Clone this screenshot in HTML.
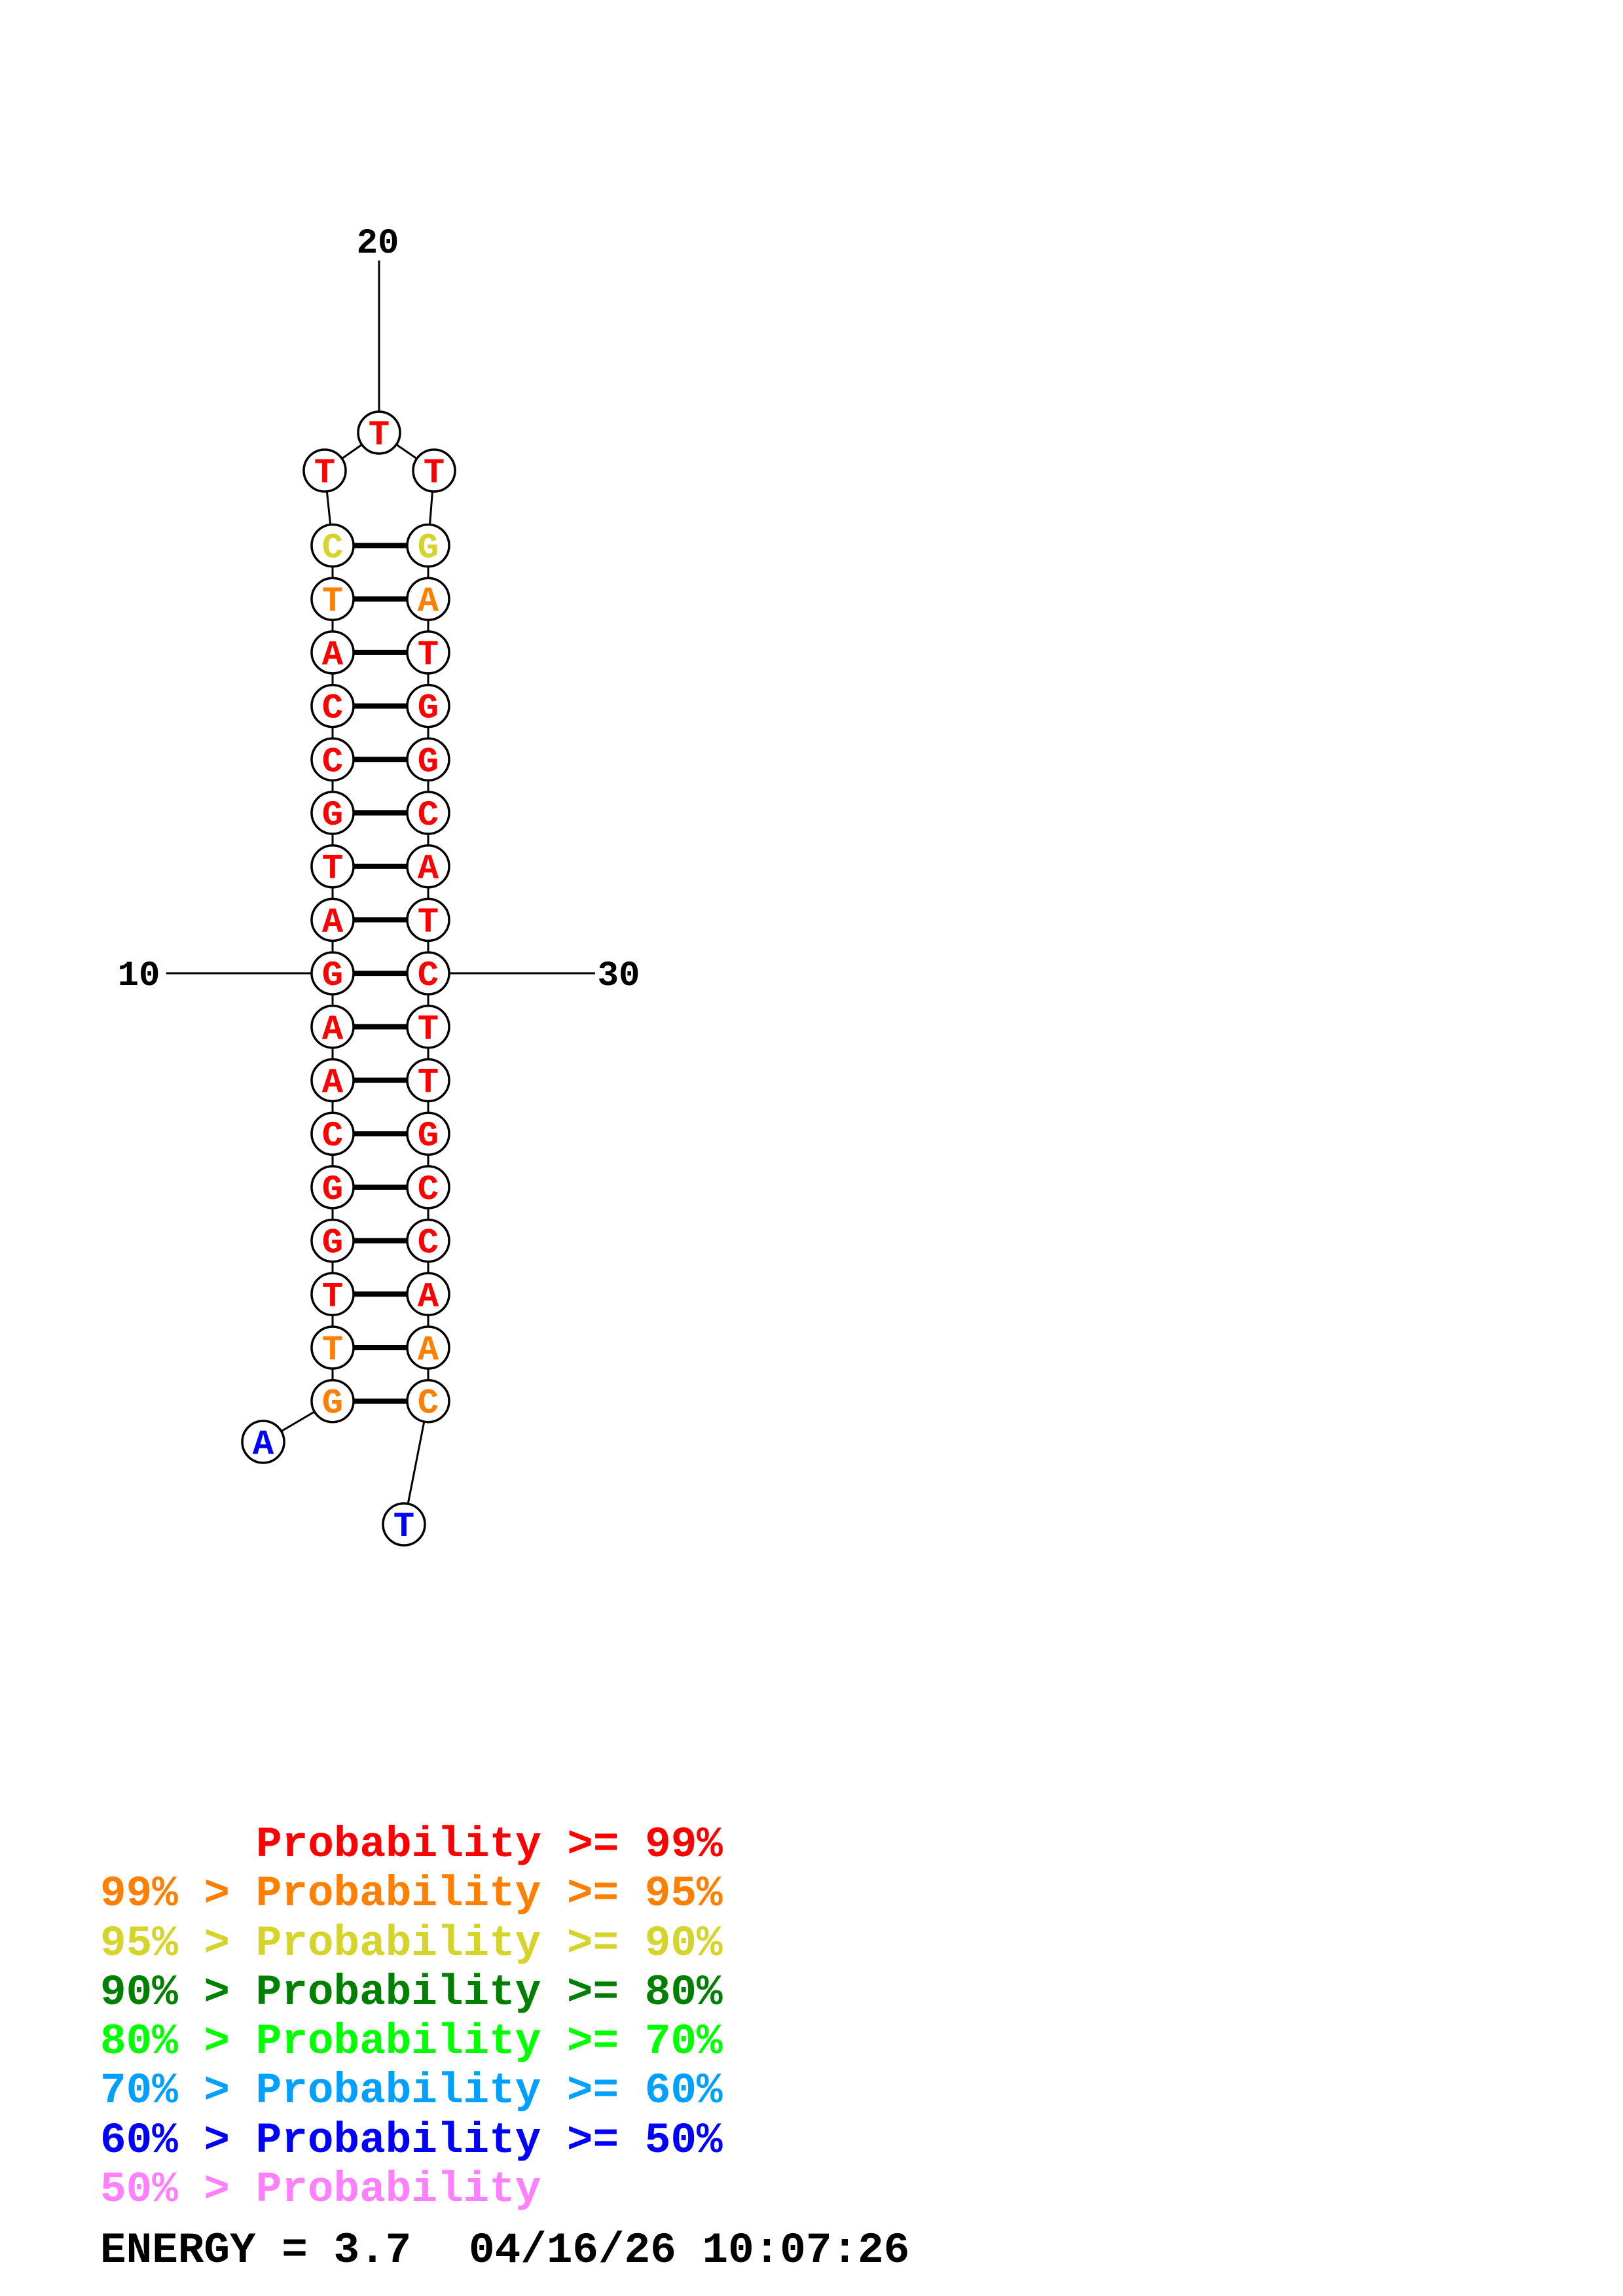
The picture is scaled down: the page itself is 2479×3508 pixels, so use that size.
<!DOCTYPE html>
<html><head><meta charset="utf-8"><style>
html,body{margin:0;padding:0;background:#fff}
svg{display:block}
.n{font-family:"Liberation Mono",monospace;font-weight:bold;font-size:54px;text-anchor:middle}
.l{font-family:"Liberation Mono",monospace;font-weight:bold;font-size:54px;text-anchor:middle;fill:#000}
.g{font-family:"Liberation Mono",monospace;font-weight:bold;font-size:66px}
.r{fill:#ff0000}.o{fill:#ff8000}.y{fill:#d4d42a}.b{fill:#0000ff}
</style></head><body>
<svg width="2479" height="3508" viewBox="0 0 2479 3508" xmlns="http://www.w3.org/2000/svg">
<g stroke="#000" stroke-width="3" fill="none">
<line x1="579" y1="398" x2="579" y2="630"/>
<line x1="254" y1="1487" x2="508" y2="1487"/>
<line x1="654" y1="1487" x2="909" y2="1487"/>
<line x1="579" y1="661" x2="496" y2="719"/>
<line x1="579" y1="661" x2="663" y2="719"/>
<line x1="496" y1="719" x2="508" y2="833.5"/>
<line x1="663" y1="719" x2="654" y2="833.5"/>
<line x1="508" y1="833.5" x2="508" y2="2140.7"/>
<line x1="654" y1="833.5" x2="654" y2="2140.7"/>
<line x1="508" y1="2140.7" x2="402" y2="2203"/>
<line x1="654" y1="2140.7" x2="617" y2="2329"/>
</g>
<g stroke="#000" stroke-width="8">
<line x1="508" y1="833.5" x2="654" y2="833.5"/>
<line x1="508" y1="915.2" x2="654" y2="915.2"/>
<line x1="508" y1="996.9" x2="654" y2="996.9"/>
<line x1="508" y1="1078.6" x2="654" y2="1078.6"/>
<line x1="508" y1="1160.3" x2="654" y2="1160.3"/>
<line x1="508" y1="1242" x2="654" y2="1242"/>
<line x1="508" y1="1323.7" x2="654" y2="1323.7"/>
<line x1="508" y1="1405.4" x2="654" y2="1405.4"/>
<line x1="508" y1="1487.1" x2="654" y2="1487.1"/>
<line x1="508" y1="1568.8" x2="654" y2="1568.8"/>
<line x1="508" y1="1650.5" x2="654" y2="1650.5"/>
<line x1="508" y1="1732.2" x2="654" y2="1732.2"/>
<line x1="508" y1="1813.9" x2="654" y2="1813.9"/>
<line x1="508" y1="1895.6" x2="654" y2="1895.6"/>
<line x1="508" y1="1977.3" x2="654" y2="1977.3"/>
<line x1="508" y1="2059" x2="654" y2="2059"/>
<line x1="508" y1="2140.7" x2="654" y2="2140.7"/>
</g>
<g stroke="#000" stroke-width="3.5" fill="#fff">
<circle cx="579" cy="661" r="32"/><circle cx="496" cy="719" r="32"/><circle cx="663" cy="719" r="32"/>
<circle cx="402" cy="2203" r="32"/><circle cx="617" cy="2329" r="32"/>
<circle cx="508" cy="833.5" r="32"/><circle cx="654" cy="833.5" r="32"/>
<circle cx="508" cy="915.2" r="32"/><circle cx="654" cy="915.2" r="32"/>
<circle cx="508" cy="996.9" r="32"/><circle cx="654" cy="996.9" r="32"/>
<circle cx="508" cy="1078.6" r="32"/><circle cx="654" cy="1078.6" r="32"/>
<circle cx="508" cy="1160.3" r="32"/><circle cx="654" cy="1160.3" r="32"/>
<circle cx="508" cy="1242" r="32"/><circle cx="654" cy="1242" r="32"/>
<circle cx="508" cy="1323.7" r="32"/><circle cx="654" cy="1323.7" r="32"/>
<circle cx="508" cy="1405.4" r="32"/><circle cx="654" cy="1405.4" r="32"/>
<circle cx="508" cy="1487.1" r="32"/><circle cx="654" cy="1487.1" r="32"/>
<circle cx="508" cy="1568.8" r="32"/><circle cx="654" cy="1568.8" r="32"/>
<circle cx="508" cy="1650.5" r="32"/><circle cx="654" cy="1650.5" r="32"/>
<circle cx="508" cy="1732.2" r="32"/><circle cx="654" cy="1732.2" r="32"/>
<circle cx="508" cy="1813.9" r="32"/><circle cx="654" cy="1813.9" r="32"/>
<circle cx="508" cy="1895.6" r="32"/><circle cx="654" cy="1895.6" r="32"/>
<circle cx="508" cy="1977.3" r="32"/><circle cx="654" cy="1977.3" r="32"/>
<circle cx="508" cy="2059" r="32"/><circle cx="654" cy="2059" r="32"/>
<circle cx="508" cy="2140.7" r="32"/><circle cx="654" cy="2140.7" r="32"/>
</g>
<g class="n">
<text x="579" y="679" class="r">T</text><text x="496" y="737" class="r">T</text><text x="663" y="737" class="r">T</text>
<text x="402" y="2221" class="b">A</text><text x="617" y="2347" class="b">T</text>
<text x="508" y="851.5" class="y">C</text><text x="654" y="851.5" class="y">G</text>
<text x="508" y="933.2" class="o">T</text><text x="654" y="933.2" class="o">A</text>
<text x="508" y="1014.9" class="r">A</text><text x="654" y="1014.9" class="r">T</text>
<text x="508" y="1096.6" class="r">C</text><text x="654" y="1096.6" class="r">G</text>
<text x="508" y="1178.3" class="r">C</text><text x="654" y="1178.3" class="r">G</text>
<text x="508" y="1260" class="r">G</text><text x="654" y="1260" class="r">C</text>
<text x="508" y="1341.7" class="r">T</text><text x="654" y="1341.7" class="r">A</text>
<text x="508" y="1423.4" class="r">A</text><text x="654" y="1423.4" class="r">T</text>
<text x="508" y="1505.1" class="r">G</text><text x="654" y="1505.1" class="r">C</text>
<text x="508" y="1586.8" class="r">A</text><text x="654" y="1586.8" class="r">T</text>
<text x="508" y="1668.5" class="r">A</text><text x="654" y="1668.5" class="r">T</text>
<text x="508" y="1750.2" class="r">C</text><text x="654" y="1750.2" class="r">G</text>
<text x="508" y="1831.9" class="r">G</text><text x="654" y="1831.9" class="r">C</text>
<text x="508" y="1913.6" class="r">G</text><text x="654" y="1913.6" class="r">C</text>
<text x="508" y="1995.3" class="r">T</text><text x="654" y="1995.3" class="r">A</text>
<text x="508" y="2077" class="o">T</text><text x="654" y="2077" class="o">A</text>
<text x="508" y="2158.7" class="o">G</text><text x="654" y="2158.7" class="o">C</text>
</g>
<text x="577" y="386" class="l">20</text>
<text x="212" y="1505" class="l">10</text>
<text x="945" y="1505" class="l">30</text>
<g class="g">
<text x="391" y="2836" fill="#ff0000">Probability &gt;= 99%</text>
<text x="153" y="2911" fill="#ff8000">99% &gt; Probability &gt;= 95%</text>
<text x="153" y="2987" fill="#d4d42a">95% &gt; Probability &gt;= 90%</text>
<text x="153" y="3062" fill="#008000">90% &gt; Probability &gt;= 80%</text>
<text x="153" y="3137" fill="#00ff00">80% &gt; Probability &gt;= 70%</text>
<text x="153" y="3212" fill="#00a0ff">70% &gt; Probability &gt;= 60%</text>
<text x="153" y="3288" fill="#0000ff">60% &gt; Probability &gt;= 50%</text>
<text x="153" y="3363" fill="#ff80ff">50% &gt; Probability</text>
<text x="153" y="3456" fill="#000">ENERGY = 3.7</text>
<text x="716" y="3456" fill="#000">04/16/26 10:07:26</text>
</g>
</svg>
</body></html>
